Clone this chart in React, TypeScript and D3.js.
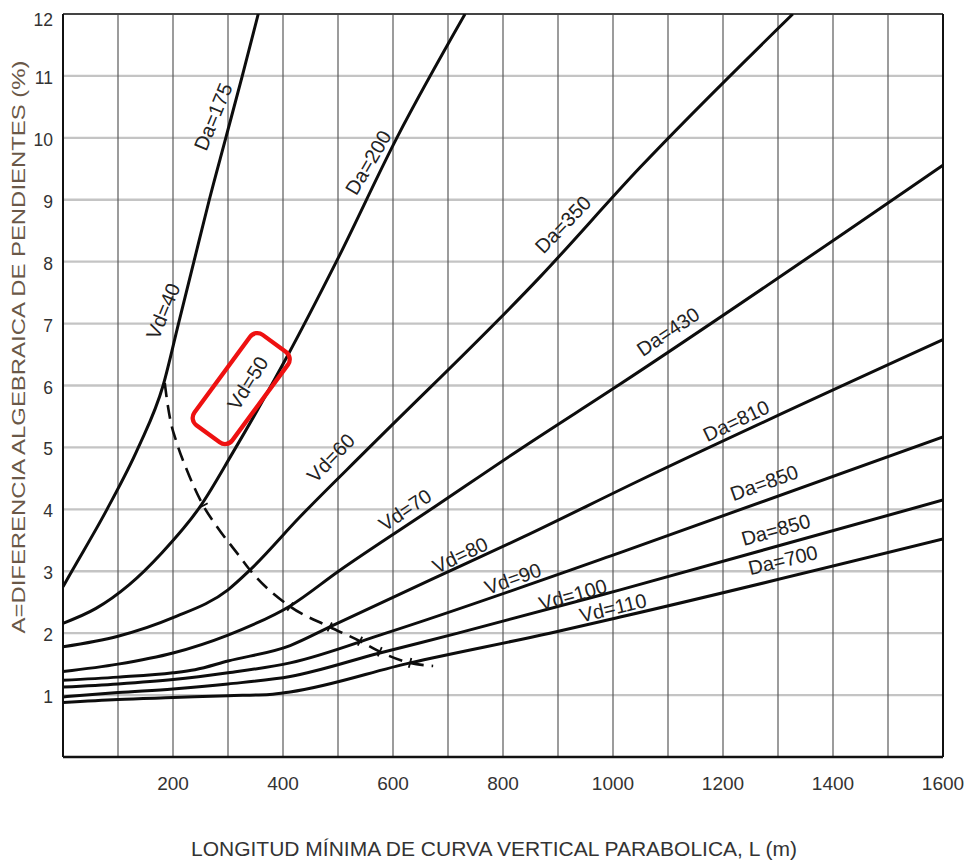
import React from 'react';
import * as d3 from 'd3';

// chart size and plot frame
const width = 973;
const height = 861;
const plot = { left: 63, top: 14, right: 943, bottom: 757 };

// tick labels
const xTicks = [200, 400, 600, 800, 1000, 1200, 1400, 1600];
const yTicks = [1, 2, 3, 4, 5, 6, 7, 8, 9, 10, 11, 12];
const xGrid = [100, 200, 300, 400, 500, 600, 700, 800, 900, 1000, 1100, 1200, 1300, 1400, 1500];
const yGrid = [1, 2, 3, 4, 5, 6, 7, 8, 9, 10, 11];

// curves: [L (m), A (%)]
const vd40 = [[0, 2.75], [16, 3], [80, 4], [137, 5], [182, 6], [210, 7], [238, 8], [266, 9], [296, 10], [326, 11], [355, 12]];
const vd50 = [[0, 2.16], [60, 2.4], [120, 2.78], [180, 3.3], [249, 4.04], [309, 4.92], [407, 6.46], [497, 8], [607, 10], [731, 12]];
const vd60 = [[0, 1.78], [100, 1.95], [200, 2.25], [300, 2.7], [340, 3.02], [431, 3.88], [557, 5], [867, 7.75], [1049, 9.52], [1327, 12]];
const vd70 = [[0, 1.38], [100, 1.5], [200, 1.68], [300, 1.97], [413, 2.44], [501, 3], [669, 4], [836, 5], [1009, 6], [1600, 9.56]];
const vd80 = [[0, 1.24], [100, 1.29], [200, 1.36], [240, 1.41], [300, 1.55], [413, 1.8], [485, 2.1], [673, 2.88], [836, 3.55], [1049, 4.47], [1600, 6.74]];
const vd90 = [[0, 1.13], [100, 1.18], [200, 1.25], [300, 1.36], [413, 1.52], [587, 2.0], [1013, 3.3], [1600, 5.17]];
const vd100 = [[0, 0.97], [100, 1.04], [200, 1.1], [300, 1.18], [413, 1.3], [576, 1.68], [718, 2.0], [1013, 2.7], [1600, 4.15]];
const vd110 = [[0, 0.88], [100, 0.93], [200, 0.96], [300, 0.99], [376, 1.01], [413, 1.05], [631, 1.52], [885, 2.0], [1013, 2.26], [1600, 3.52]];

// dashed line through the break points
const dashed = [[185, 6.04], [189, 5.77], [195, 5.45], [207, 5.07], [225, 4.64], [255, 4.06], [280, 3.72], [322, 3.23], [340, 3.02], [413, 2.43], [485, 2.1], [540, 1.87], [576, 1.7], [631, 1.52], [673, 1.47]];
const breakPoints = [[255, 4.06], [340, 3.02], [413, 2.43], [485, 2.1], [540, 1.87], [576, 1.7], [631, 1.52]];

// labels: text, L, A, angle
const labelText = ['Da=175', 'Vd=40', 'Vd=50', 'Da=200', 'Vd=60', 'Da=350', 'Vd=70', 'Da=430', 'Vd=80', 'Da=810', 'Vd=90', 'Da=850', 'Vd=100', 'Da=850', 'Vd=110', 'Da=700'];
const labelX = [273, 182, 336, 555, 487, 909, 622, 1100, 722, 1224, 818, 1275, 927, 1296, 1000, 1309];
const labelY = [10.34, 7.2, 6.04, 9.6, 4.83, 8.6, 3.99, 6.87, 3.26, 5.43, 2.88, 4.43, 2.62, 3.67, 2.41, 3.18];
const labelAngle = [-67.6, -67.6, -58, -59.5, -46, -46, -34, -34, -25.5, -25.5, -19.7, -19.7, -15.7, -15.7, -13.6, -13.6];

// red highlight box around Vd=50
const box = { x: 324, y: 5.95, angle: -53.7 };

const App = () => {
  const x = d3.scaleLinear().domain([0, 1600]).range([plot.left, plot.right]);
  const y = d3.scaleLinear().domain([0, 12]).range([plot.bottom, plot.top]);

  const line = d3.line<number[]>()
    .x(d => x(d[0]))
    .y(d => y(d[1]))
    .curve(d3.curveMonotoneX);

  const curves = [vd40, vd50, vd60, vd70, vd80, vd90, vd100, vd110];
  const font = "'Liberation Sans', Arial, sans-serif";

  // small ticks across the dashed line where it meets each curve
  const ticks = breakPoints.map((p, i) => {
    const j = dashed.findIndex(d => d[0] === p[0]);
    const a = dashed[Math.max(j - 1, 0)];
    const b = dashed[Math.min(j + 1, dashed.length - 1)];
    const dx = x(b[0]) - x(a[0]);
    const dy = y(b[1]) - y(a[1]);
    const len = Math.hypot(dx, dy);
    const nx = -dy / len * 5, ny = dx / len * 5;
    return { x1: x(p[0]) - nx, y1: y(p[1]) - ny, x2: x(p[0]) + nx, y2: y(p[1]) + ny, key: i };
  });

  return (
    <svg width={width} height={height} style={{ position: 'absolute', left: 0, top: 0, background: '#fff' }}>
      <defs>
        <clipPath id="plotClip">
          <rect x={plot.left} y={plot.top} width={plot.right - plot.left} height={plot.bottom - plot.top} />
        </clipPath>
      </defs>

      {/* grid */}
      {yGrid.map(v => (
        <line key={'h' + v} x1={plot.left} x2={plot.right} y1={y(v)} y2={y(v)} stroke="#c4c4c4" strokeWidth={2.4} />
      ))}
      {xGrid.map(v => (
        <line key={'v' + v} x1={x(v)} x2={x(v)} y1={plot.top} y2={plot.bottom} stroke="#5a5a5a" strokeWidth={1.2} />
      ))}

      {/* frame */}
      <line x1={plot.left} x2={plot.right} y1={plot.top} y2={plot.top} stroke="#444" strokeWidth={2.2} />
      <line x1={plot.left} x2={plot.right} y1={plot.bottom} y2={plot.bottom} stroke="#111" strokeWidth={2.6} />
      <line x1={plot.left} x2={plot.left} y1={plot.top} y2={plot.bottom} stroke="#111" strokeWidth={2} />
      <line x1={plot.right} x2={plot.right} y1={plot.top} y2={plot.bottom} stroke="#111" strokeWidth={2} />

      {/* curves */}
      <g clipPath="url(#plotClip)">
        {curves.map((c, i) => (
          <path key={i} d={line(c) || ''} fill="none" stroke="#0d0d0d" strokeWidth={3} />
        ))}
        <path d={line(dashed) || ''} fill="none" stroke="#0d0d0d" strokeWidth={2.6} strokeDasharray="14 8" />
        {ticks.map(t => (
          <line key={t.key} x1={t.x1} y1={t.y1} x2={t.x2} y2={t.y2} stroke="#0d0d0d" strokeWidth={1.8} />
        ))}
      </g>

      {/* curve labels */}
      {labelText.map((t, i) => (
        <text key={i} transform={`translate(${x(labelX[i])},${y(labelY[i])}) rotate(${labelAngle[i]})`}
          textAnchor="middle" dominantBaseline="central" fontFamily={font} fontSize={20} fill="#222">
          {t}
        </text>
      ))}

      {/* highlight box */}
      <rect transform={`translate(${x(box.x)},${y(box.y)}) rotate(${box.angle})`}
        x={-56} y={-23.5} width={112} height={47} rx={9} fill="none" stroke="#ee1111" strokeWidth={4.3} />

      {/* tick labels */}
      {xTicks.map(v => (
        <text key={'xt' + v} x={x(v)} y={790} textAnchor="middle" fontFamily={font} fontSize={19} fill="#333">{v}</text>
      ))}
      {yTicks.map(v => (
        <text key={'yt' + v} x={53} y={Math.max(y(v) + 2, 20)} textAnchor="end" dominantBaseline="central" fontFamily={font} fontSize={17.5} fill="#333">{v}</text>
      ))}

      {/* axis titles */}
      <text x={494} y={856} textAnchor="middle" fontFamily={font} fontSize={21} fill="#333">
        LONGITUD MÍNIMA DE CURVA VERTICAL PARABOLICA, L (m)
      </text>
      <text transform="translate(25,347) rotate(-90)" textAnchor="middle" fontFamily={font} fontSize={18}
        fill="#6a5848" textLength={573} lengthAdjust="spacingAndGlyphs">
        A=DIFERENCIA ALGEBRAICA DE PENDIENTES (%)
      </text>
    </svg>
  );
};

export default App;
